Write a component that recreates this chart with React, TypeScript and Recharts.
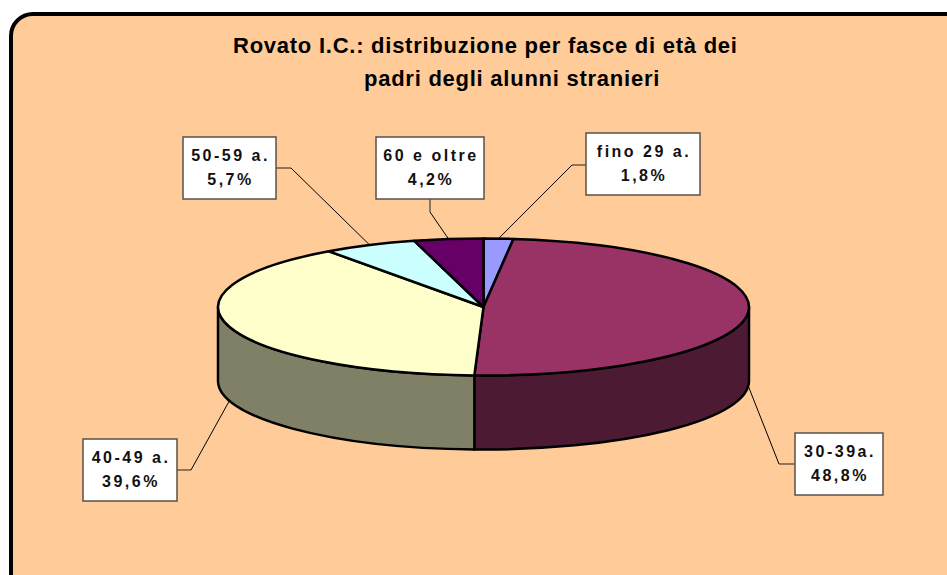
import React from "react";
import { PieChart, Pie } from "recharts";

// age bands of the fathers, clockwise from 12 o'clock
const categories = ["fino 29 a.", "30-39a.", "40-49 a.", "50-59 a.", "60 e oltre"];
const shares = [1.8, 48.8, 39.6, 5.7, 4.2];
const COLORS = ["#9999FF", "#993366", "#FFFFCC", "#CCFFFF", "#660066"];

const data = categories.map((name, i) => ({ name, value: shares[i] }));

// label boxes (layout only)
const BOXES = [
  { x: 586, y: 133, w: 114, h: 62, side: "left", elbow: [572, 165] },
  { x: 795, y: 433, w: 88, h: 62, side: "left", elbow: [779, 464] },
  { x: 83, y: 439, w: 94, h: 62, side: "right", elbow: [191, 470] },
  { x: 183, y: 137, w: 93, h: 62, side: "right", elbow: [291, 168] },
  { x: 376, y: 137, w: 108, h: 62, side: "bottom", elbow: [430, 212] },
];

const W = 947;
const H = 575;
const RATIO = 0.258;
const DEPTH = 74;
const FONT = "'Liberation Sans', Arial, sans-serif";

const RAD = Math.PI / 180;

function darken(hex: string) {
  const n = parseInt(hex.slice(1), 16);
  const r = Math.round(((n >> 16) & 255) / 2);
  const g = Math.round(((n >> 8) & 255) / 2);
  const b = Math.round((n & 255) / 2);
  return `rgb(${r},${g},${b})`;
}

function renderSlice(props: any) {
  const { cx, cy, outerRadius, startAngle, endAngle, midAngle, index } = props;
  const rx = outerRadius;
  const ry = outerRadius * RATIO;
  const pt = (a: number, dy = 0) => [cx + rx * Math.cos(a * RAD), cy - ry * Math.sin(a * RAD) + dy];
  const fill = COLORS[index];

  const s = startAngle;
  const e = endAngle;
  const p1 = pt(s);
  const p2 = pt(e);
  const large = Math.abs(s - e) > 180 ? 1 : 0;
  const top = `M${cx},${cy} L${p1[0]},${p1[1]} A${rx},${ry} 0 ${large} 1 ${p2[0]},${p2[1]} Z`;

  // visible front wall: angles between 0 and -180
  let side = null;
  const a = Math.min(s, 0);
  const b = Math.max(e, -180);
  if (a > b) {
    const q1 = pt(a);
    const q2 = pt(b);
    const q3 = pt(b, DEPTH);
    const q4 = pt(a, DEPTH);
    side = (
      <path
        d={`M${q1[0]},${q1[1]} A${rx},${ry} 0 0 1 ${q2[0]},${q2[1]} L${q3[0]},${q3[1]} A${rx},${ry} 0 0 0 ${q4[0]},${q4[1]} Z`}
        fill={darken(fill)}
        stroke="#000"
        strokeWidth={2.5}
        strokeLinejoin="round"
      />
    );
  }

  // leader line anchor
  const m = ((midAngle % 360) + 360) % 360;
  const front = m > 180;
  const anchor = pt(midAngle, front ? DEPTH : 0);

  const box = BOXES[index];
  let stub: number[];
  if (box.side === "left") stub = [box.x, box.elbow[1]];
  else if (box.side === "right") stub = [box.x + box.w, box.elbow[1]];
  else stub = [box.elbow[0], box.y + box.h];

  const pct = shares[index].toFixed(1).replace(".", ",") + "%";
  const tx = box.x + box.w / 2 + 1;

  return (
    <g key={`slice-${index}`}>
      {side}
      <path d={top} fill={fill} stroke="#000" strokeWidth={2.5} strokeLinejoin="round" />
      <line x1={stub[0]} y1={stub[1]} x2={box.elbow[0]} y2={box.elbow[1]} stroke="#6b5a4a" strokeWidth={1.5} />
      <line x1={box.elbow[0]} y1={box.elbow[1]} x2={anchor[0]} y2={anchor[1]} stroke="#000" strokeWidth={1} />
      <rect x={box.x} y={box.y} width={box.w} height={box.h} fill="#FFFFFF" stroke="#5a5048" strokeWidth={1.5} />
      <text
        x={tx}
        y={box.y + 24}
        textAnchor="middle"
        fontFamily={FONT}
        fontWeight="bold"
        fontSize={16}
        letterSpacing={2.5}
        fill="#111"
      >
        {categories[index]}
      </text>
      <text
        x={tx}
        y={box.y + 48}
        textAnchor="middle"
        fontFamily={FONT}
        fontWeight="bold"
        fontSize={16}
        letterSpacing={2.5}
        fill="#111"
      >
        {pct}
      </text>
    </g>
  );
}

export default function App() {
  return (
    <div style={{ position: "absolute", left: 0, top: 0, width: W, height: H, background: "#FFFFFF", overflow: "hidden" }}>
      <svg width={W} height={H} style={{ position: "absolute", left: 0, top: 0 }}>
        <rect x={11} y={14} width={962} height={600} rx={22} ry={22} fill="#FFCC99" stroke="#000" strokeWidth={4} />
        <text x={233} y={53} fontFamily={FONT} fontWeight="bold" fontSize={22} letterSpacing={0.75} fill="#000">
          Rovato I.C.: distribuzione per fasce di età dei
        </text>
        <text x={364} y={86} fontFamily={FONT} fontWeight="bold" fontSize={22} letterSpacing={0.75} fill="#000">
          padri degli alunni stranieri
        </text>
      </svg>
      <div style={{ position: "absolute", left: 0, top: 0 }}>
        <PieChart width={W} height={H} margin={{ top: 0, right: 0, bottom: 0, left: 0 }}>
          <Pie
            data={data}
            dataKey="value"
            nameKey="name"
            cx={483.5}
            cy={307}
            innerRadius={0}
            outerRadius={265.5}
            startAngle={90}
            endAngle={-270}
            fill="none"
            stroke="none"
            labelLine={false}
            label={renderSlice}
            isAnimationActive={false}
          />
        </PieChart>
      </div>
    </div>
  );
}
